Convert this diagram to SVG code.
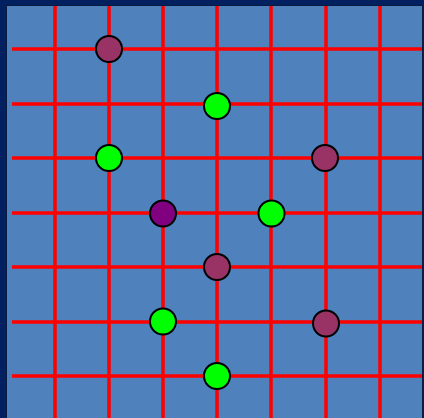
<svg xmlns="http://www.w3.org/2000/svg" width="424" height="418" viewBox="0 0 424 418">
<style>
.grid line{stroke:#FF0000;stroke-width:3.5}
.n{stroke:#000;stroke-width:2}
.m{fill:#993366}
.g{fill:#00FF00}
.p{fill:#800080}
</style>
<rect x="0" y="0" width="424" height="418" fill="#002060"/>
<rect x="6.5" y="5.5" width="416" height="414" fill="#4F81BD" stroke="#0a1a40" stroke-width="1"/>
<g id="connectors" class="grid">
<line x1="55" y1="6" x2="55" y2="418"/>
<line x1="109" y1="6" x2="109" y2="418"/>
<line x1="163" y1="6" x2="163" y2="418"/>
<line x1="217" y1="6" x2="217" y2="418"/>
<line x1="271" y1="6" x2="271" y2="418"/>
<line x1="326" y1="6" x2="326" y2="418"/>
<line x1="380" y1="6" x2="380" y2="418"/>
<line x1="12" y1="49" x2="422" y2="49"/>
<line x1="12" y1="104" x2="422" y2="104"/>
<line x1="12" y1="158" x2="422" y2="158"/>
<line x1="12" y1="213" x2="422" y2="213"/>
<line x1="12" y1="267" x2="422" y2="267"/>
<line x1="12" y1="322" x2="422" y2="322"/>
<line x1="12" y1="376" x2="422" y2="376"/>
</g>
<g id="n1"><circle class="n m" cx="109" cy="49" r="13"/></g>
<g id="n2"><circle class="n g" cx="217" cy="106" r="13"/></g>
<g id="n3"><circle class="n g" cx="109" cy="158" r="13"/></g>
<g id="n4"><circle class="n m" cx="325" cy="158" r="13"/></g>
<g id="n5"><circle class="n p" cx="163" cy="213.5" r="13"/></g>
<g id="n6"><circle class="n g" cx="271.5" cy="213.5" r="13"/></g>
<g id="n7"><circle class="n m" cx="217" cy="267" r="13"/></g>
<g id="n8"><circle class="n g" cx="163" cy="321.5" r="13"/></g>
<g id="n9"><circle class="n m" cx="326" cy="323.5" r="13"/></g>
<g id="n10"><circle class="n g" cx="217" cy="376" r="13"/></g>
</svg>
